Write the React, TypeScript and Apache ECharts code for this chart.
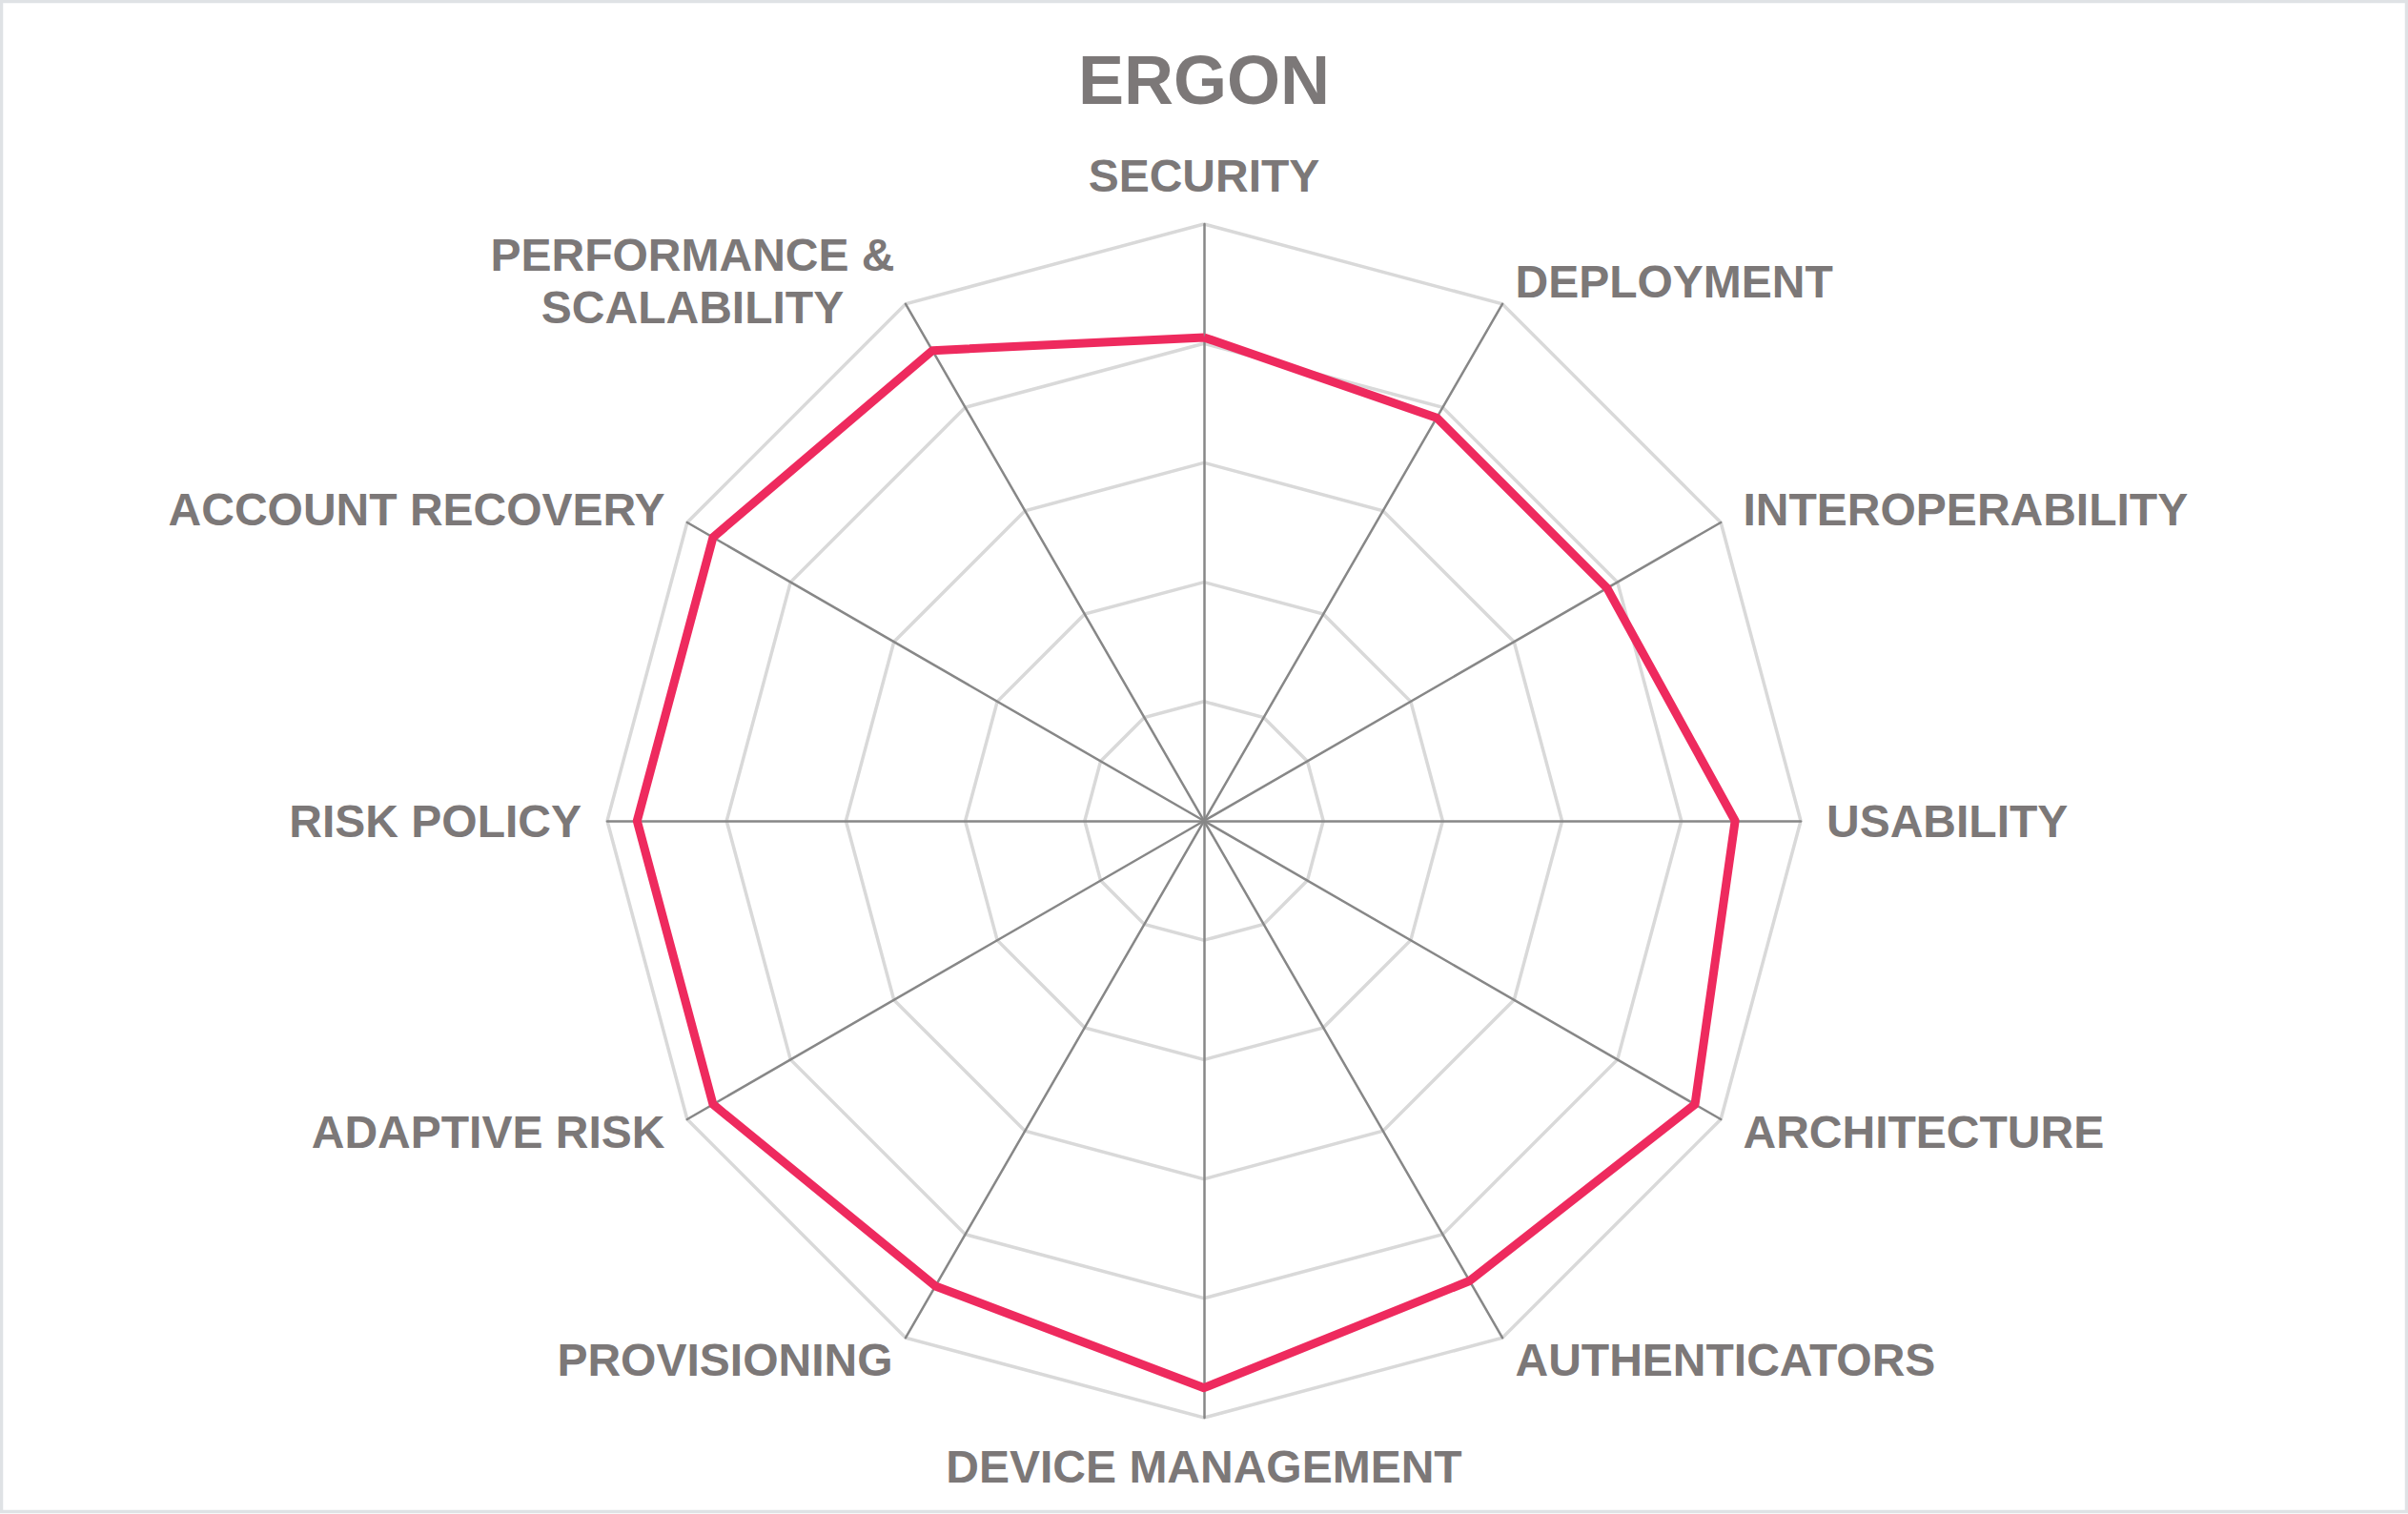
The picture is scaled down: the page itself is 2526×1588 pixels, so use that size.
import { useEffect, useRef } from 'react';
import * as echarts from 'echarts';

// clockwise from the top
const categories = [
    'SECURITY',
    'DEPLOYMENT',
    'INTEROPERABILITY',
    'USABILITY',
    'ARCHITECTURE',
    'AUTHENTICATORS',
    'DEVICE MANAGEMENT',
    'PROVISIONING',
    'ADAPTIVE RISK',
    'RISK POLICY',
    'ACCOUNT RECOVERY',
    'PERFORMANCE &\nSCALABILITY'
];
const ergonScores = [4.05, 3.9, 3.9, 4.45, 4.75, 4.45, 4.75, 4.5, 4.75, 4.75, 4.75, 4.55];
const scaleMax = 5;
const ringCount = 5;

const textGrey = '#7c7878';
const font = "'Liberation Sans', Arial, sans-serif";

// echarts lays indicators out counter-clockwise, so flip everything after the first
const toRadarOrder = <T,>(arr: T[]) => [arr[0], ...arr.slice(1).reverse()];

const App = () => {
    const chartRef = useRef<HTMLDivElement | null>(null);

    useEffect(() => {
        if (!chartRef.current) return;
        const myChart = echarts.init(chartRef.current, null, { renderer: 'svg' });

        const option = {
            animation: false,
            backgroundColor: '#ffffff',
            title: {
                text: 'ERGON',
                left: 'center',
                top: 48,
                padding: 0,
                textStyle: {
                    color: textGrey,
                    fontSize: 72,
                    fontWeight: 'bold',
                    fontFamily: font
                }
            },
            graphic: [
                {
                    type: 'rect',
                    shape: { x: 1.5, y: 1.5, width: 2523, height: 1584 },
                    style: { fill: 'none', stroke: '#dfe2e5', lineWidth: 3.5 },
                    silent: true
                }
            ],
            radar: {
                center: [1263, 861],
                radius: 626,
                startAngle: 90,
                splitNumber: ringCount,
                shape: 'polygon',
                nameGap: 27,
                indicator: toRadarOrder(categories).map((name) => ({ name, min: 0, max: scaleMax })),
                axisName: {
                    color: textGrey,
                    fontSize: 48,
                    fontWeight: 'bold',
                    fontFamily: font,
                    formatter: (name: string) => {
                        if (name.indexOf('\n') < 0) return name;
                        return name
                            .split('\n')
                            .map((line) => `{c|${line}}`)
                            .join('\n');
                    },
                    rich: {
                        c: {
                            width: 420,
                            align: 'center',
                            lineHeight: 55,
                            color: textGrey,
                            fontSize: 48,
                            fontWeight: 'bold',
                            fontFamily: font
                        }
                    }
                },
                axisLine: {
                    lineStyle: { color: '#878787', width: 2.5 }
                },
                splitLine: {
                    lineStyle: { color: '#d9d9d9', width: 3.5 }
                },
                splitArea: { show: false },
                axisTick: { show: false },
                axisLabel: { show: false }
            },
            series: [
                {
                    type: 'radar',
                    name: 'ERGON',
                    symbol: 'none',
                    lineStyle: { color: '#ee2a5e', width: 9 },
                    itemStyle: { color: '#ee2a5e' },
                    data: [{ value: toRadarOrder(ergonScores), name: 'ERGON' }]
                }
            ]
        };

        myChart.setOption(option);
        return () => {
            myChart.dispose();
        };
    }, []);

    return (
        <div
            ref={chartRef}
            style={{ position: 'fixed', left: 0, top: 0, width: 2526, height: 1588 }}
        />
    );
};

export default App;
